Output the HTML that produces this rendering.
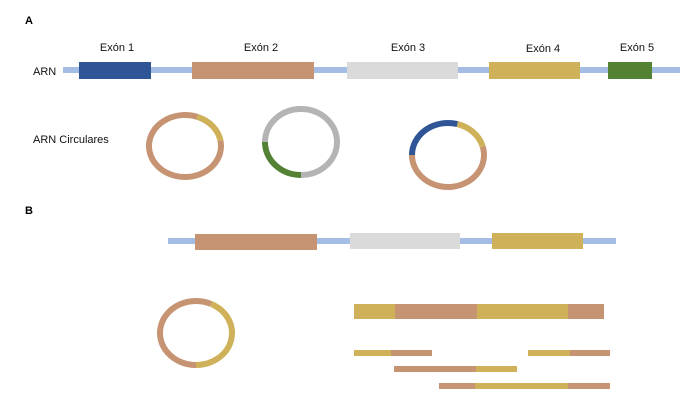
<!DOCTYPE html>
<html><head><meta charset="utf-8"><style>
body{margin:0;background:#fff;}
svg{display:block;font-family:"Liberation Sans",sans-serif;}
</style></head><body>
<svg id="s" width="700" height="404" viewBox="0 0 700 404">
<rect width="700" height="404" fill="#fff"/>
<text x="25" y="24" font-size="11" font-weight="bold">A</text>
<text x="25" y="214" font-size="11" font-weight="bold">B</text>
<g font-size="11" fill="#111">
<text x="117" y="51" text-anchor="middle">Exón 1</text>
<text x="261" y="51" text-anchor="middle">Exón 2</text>
<text x="408" y="51" text-anchor="middle">Exón 3</text>
<text x="543" y="52" text-anchor="middle">Exón 4</text>
<text x="637" y="51" text-anchor="middle">Exón 5</text>
<text x="33" y="75">ARN</text>
<text x="33" y="143">ARN Circulares</text>
</g>
<rect x="63" y="67" width="617" height="6" fill="#a4bde4"/>
<rect x="79" y="62" width="72" height="17" fill="#2f5597"/>
<rect x="192" y="62" width="122" height="17" fill="#c69472"/>
<rect x="347" y="62" width="111" height="17" fill="#dadada"/>
<rect x="489" y="62" width="91" height="17" fill="#cfb15a"/>
<rect x="608" y="62" width="44" height="17" fill="#548235"/>

<rect x="168" y="238" width="448" height="6" fill="#a4bde4"/>
<rect x="195" y="234" width="122" height="16" fill="#c69472"/>
<rect x="350" y="233" width="110" height="16" fill="#dadada"/>
<rect x="492" y="233" width="91" height="16" fill="#cfb15a"/>

<rect x="354" y="304" width="41" height="15" fill="#cfb15a"/>
<rect x="395" y="304" width="82" height="15" fill="#c69472"/>
<rect x="477" y="304" width="91" height="15" fill="#cfb15a"/>
<rect x="568" y="304" width="36" height="15" fill="#c69472"/>

<rect x="354" y="350" width="37" height="6" fill="#cfb15a"/>
<rect x="391" y="350" width="41" height="6" fill="#c69472"/>
<rect x="528" y="350" width="42" height="6" fill="#cfb15a"/>
<rect x="570" y="350" width="40" height="6" fill="#c69472"/>
<rect x="394" y="366" width="82" height="6" fill="#c69472"/>
<rect x="476" y="366" width="41" height="6" fill="#cfb15a"/>
<rect x="439" y="383" width="36" height="6" fill="#c69472"/>
<rect x="475" y="383" width="93" height="6" fill="#cfb15a"/>
<rect x="568" y="383" width="42" height="6" fill="#c69472"/>
<g id="rings" fill="none" stroke-width="6"></g>
</svg>
<script>
var g=document.getElementById('rings');
function arc(cx,cy,rx,ry,a0,a1,col){
 var r=Math.PI/180;
 var x0=cx+rx*Math.cos(a0*r),y0=cy+ry*Math.sin(a0*r),x1=cx+rx*Math.cos(a1*r),y1=cy+ry*Math.sin(a1*r);
 var large=(a1-a0)>180?1:0;
 var p=document.createElementNS('http://www.w3.org/2000/svg','path');
 p.setAttribute('d','M'+x0+' '+y0+' A'+rx+' '+ry+' 0 '+large+' 1 '+x1+' '+y1);
 p.setAttribute('stroke',col);g.appendChild(p);
}
var O='#c69472',Y='#cfb15a',B='#2f5597',G='#548235',Gr='#b4b4b4';
arc(185,146,36,31,-10,290,O);arc(185,146,36,31,-70,-10,Y);
arc(301,142,36,33,-180,90,Gr);arc(301,142,36,33,90,180,G);
arc(448,155,36,32,-15,180,O);arc(448,155,36,32,-75,-15,Y);arc(448,155,36,32,180,285,B);
arc(196,333,36,32,90,295,O);arc(196,333,36,32,-65,90,Y);
</script>
</body></html>
